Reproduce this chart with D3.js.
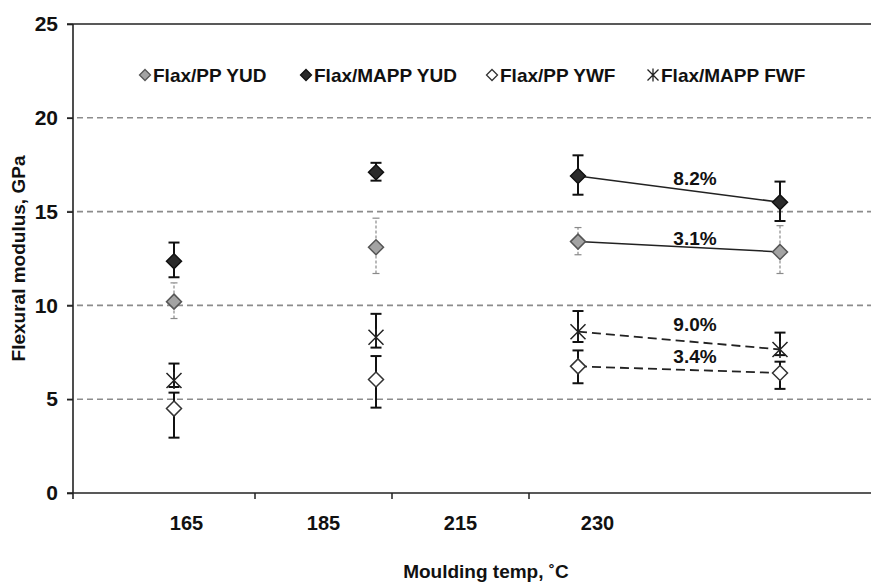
<!DOCTYPE html>
<html>
<head>
<meta charset="utf-8">
<script src="https://cdn.jsdelivr.net/npm/d3@7"></script>
<style>
body { margin: 0; background: #fff; }
svg { display: block; font-family: "Liberation Sans", Arial, sans-serif; font-weight: bold; }
</style>
</head>
<body>
<svg width="871" height="585"></svg>
<script>
// data
var temps = ['165', '185', '215', '230'];

var ppYud   = [10.2, 13.1, 13.4, 12.85];
var ppYudLo = [9.3, 11.7, 12.7, 11.7];
var ppYudHi = [11.2, 14.65, 14.15, 14.25];

var mappYud   = [12.35, 17.1, 16.9, 15.5];
var mappYudLo = [11.5, 16.65, 15.9, 14.5];
var mappYudHi = [13.35, 17.6, 18.0, 16.6];

var ppYwf   = [4.5, 6.05, 6.75, 6.4];
var ppYwfLo = [2.95, 4.55, 5.85, 5.55];
var ppYwfHi = [5.35, 7.3, 7.6, 7.0];

var mappFwf   = [6.0, 8.3, 8.6, 7.65];
var mappFwfLo = [5.65, 7.75, 8.05, 7.35];
var mappFwfHi = [6.9, 9.55, 9.7, 8.55];

var yTicks = [0, 5, 10, 15, 20, 25];
var changeLabels = ['8.2%', '3.1%', '9.0%', '3.4%'];
var changeY = [16.8, 13.6, 9.0, 7.3];

var series = [
	{name: 'Flax/PP YUD', v: ppYud, lo: ppYudLo, hi: ppYudHi, marker: 'diamond', fill: '#a3a3a3', stroke: '#555', bar: 'gray', line: 'solid'},
	{name: 'Flax/MAPP YUD', v: mappYud, lo: mappYudLo, hi: mappYudHi, marker: 'diamond', fill: '#2b2b2b', stroke: '#111', bar: 'black', line: 'solid'},
	{name: 'Flax/PP YWF', v: ppYwf, lo: ppYwfLo, hi: ppYwfHi, marker: 'diamond', fill: '#fff', stroke: '#333', bar: 'black', line: 'dash'},
	{name: 'Flax/MAPP FWF', v: mappFwf, lo: mappFwfLo, hi: mappFwfHi, marker: 'star', fill: 'none', stroke: '#222', bar: 'black', line: 'dash'}
];

function draw() {
	var svg = d3.select('svg');
	var pLeft = 73, pTop = 24, pBottom = 493, pRight = 881;

	var y = d3.scaleLinear().domain([0, 25]).range([pBottom, pTop]);
	// points sit in the middle of 4 equal bands
	var xPt = d3.scaleBand().domain(temps).range([pLeft, pRight]);
	// the category labels use their own (narrower) band axis
	var xLab = d3.scaleBand().domain(temps).range([118, 666]);

	function px(i) { return xPt(temps[i]) + xPt.bandwidth() / 2; }

	function markerPath(type, r) {
		if (type == 'diamond') return 'M0,' + (-r) + 'L' + r + ',0L0,' + r + 'L' + (-r) + ',0Z';
		return 'M' + (-r) + ',' + (-r) + 'L' + r + ',' + r + 'M' + (-r) + ',' + r + 'L' + r + ',' + (-r) + 'M0,' + (-r - 1) + 'L0,' + (r + 1);
	}

	// grid
	svg.append('g').selectAll('line')
		.data(yTicks.filter(function(d){ return d > 0 && d < 25 }))
		.enter().append('line')
		.attr('x1', pLeft - 6).attr('x2', 871)
		.attr('y1', function(d){ return y(d) }).attr('y2', function(d){ return y(d) })
		.style('stroke', '#8c8c8c').style('stroke-width', 1.6).style('stroke-dasharray', '6,4');

	// top line
	svg.append('line').attr('x1', pLeft - 6).attr('x2', 871).attr('y1', y(25)).attr('y2', y(25))
		.style('stroke', '#222').style('stroke-width', 1.6);

	// y axis
	var yAxis = svg.append('g').attr('transform', 'translate(' + pLeft + ',0)')
		.call(d3.axisLeft(y).tickValues(yTicks).tickSize(6).tickPadding(9));
	yAxis.select('.domain').remove();
	yAxis.append('line').attr('y1', pTop).attr('y2', pBottom + 6).style('stroke', '#222').style('stroke-width', 1.6);
	yAxis.selectAll('.tick line').style('stroke', '#222').style('stroke-width', 1.6);
	yAxis.selectAll('.tick text').style('font-size', '21px').style('font-family', 'Liberation Sans, Arial, sans-serif')
		.style('font-weight', 'bold').style('fill', '#111');

	// x axis
	svg.append('line').attr('x1', pLeft - 6).attr('x2', 871).attr('y1', pBottom).attr('y2', pBottom)
		.style('stroke', '#222').style('stroke-width', 1.6);
	svg.append('g').selectAll('line').data(temps.slice(1)).enter().append('line')
		.attr('x1', function(d){ return xLab(d) }).attr('x2', function(d){ return xLab(d) })
		.attr('y1', pBottom).attr('y2', pBottom + 6)
		.style('stroke', '#222').style('stroke-width', 1.5);
	svg.append('g').selectAll('text').data(temps).enter().append('text')
		.attr('x', function(d){ return xLab(d) + xLab.bandwidth() / 2 })
		.attr('y', pBottom + 37)
		.attr('text-anchor', 'middle')
		.style('font-size', '20px').style('fill', '#111')
		.text(function(d){ return d });

	// axis titles
	svg.append('text').attr('x', 486).attr('y', 578).attr('text-anchor', 'middle')
		.style('font-size', '19px').style('fill', '#111').text('Moulding temp, ˚C');
	svg.append('text').attr('transform', 'translate(25,' + ((pTop + pBottom) / 2) + ') rotate(-90)')
		.attr('text-anchor', 'middle').style('font-size', '19px').style('fill', '#111')
		.text('Flexural modulus, GPa');

	// connecting lines for 215 -> 230
	series.forEach(function(s){
		var line = d3.line().x(function(d){ return px(d) }).y(function(d){ return y(s.v[d]) });
		svg.append('path').datum([2, 3]).attr('d', line)
			.style('fill', 'none').style('stroke', '#222')
			.style('stroke-width', s.line == 'dash' ? 1.8 : 1.5)
			.style('stroke-dasharray', s.line == 'dash' ? '9,5' : null);
	});

	// error bars
	series.forEach(function(s){
		var g = svg.append('g');
		var gray = s.bar == 'gray';
		var cap = gray ? 3.5 : 5.5;
		s.v.forEach(function(v, i){
			var x = px(i);
			var st = gray ? '#8a8a8a' : '#111';
			var sw = gray ? 1.2 : 2;
			var da = gray ? '3,2' : null;
			g.append('line').attr('x1', x).attr('x2', x).attr('y1', y(s.lo[i])).attr('y2', y(s.hi[i]))
				.style('stroke', st).style('stroke-width', sw).style('stroke-dasharray', da);
			[s.lo[i], s.hi[i]].forEach(function(e){
				g.append('line').attr('x1', x - cap).attr('x2', x + cap).attr('y1', y(e)).attr('y2', y(e))
					.style('stroke', st).style('stroke-width', sw);
			});
		});
	});

	// markers
	series.forEach(function(s){
		svg.append('g').selectAll('path').data(s.v).enter().append('path')
			.attr('transform', function(d, i){ return 'translate(' + px(i) + ',' + y(d) + ')' })
			.attr('d', markerPath(s.marker, 7.5))
			.style('fill', s.fill).style('stroke', s.stroke).style('stroke-width', 1.5);
	});

	// % change labels
	svg.append('g').selectAll('text').data(changeLabels).enter().append('text')
		.attr('x', (px(2) + px(3)) / 2 + 16)
		.attr('y', function(d, i){ return y(changeY[i]) + 7 })
		.attr('text-anchor', 'middle')
		.style('font-size', '19px').style('fill', '#111')
		.text(function(d){ return d });

	// legend
	var legX = [145, 306, 492, 653];
	var leg = svg.append('g').selectAll('g').data(series).enter().append('g')
		.attr('transform', function(d, i){ return 'translate(' + legX[i] + ',75)' });
	leg.append('path').attr('d', function(d){ return markerPath(d.marker, 5.5) })
		.style('fill', function(d){ return d.fill }).style('stroke', function(d){ return d.stroke })
		.style('stroke-width', 1.3);
	leg.append('text').attr('x', 8).attr('y', 6.5).style('font-size', '19px').style('fill', '#111')
		.text(function(d){ return d.name });
}

draw();
</script>
</body>
</html>
